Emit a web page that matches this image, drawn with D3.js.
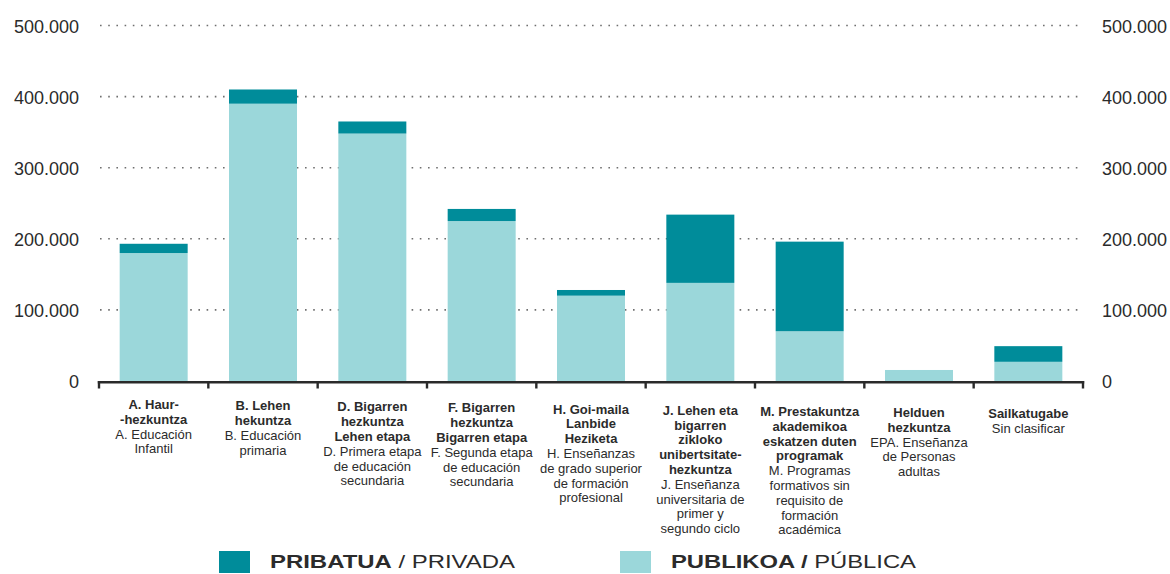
<!DOCTYPE html>
<html>
<head>
<meta charset="utf-8">
<script src="https://cdn.jsdelivr.net/npm/d3@7"></script>
<style>
  body { margin: 0; background: #fff; }
  svg { display: block; font-family: "Liberation Sans", Arial, Helvetica, sans-serif; }
</style>
</head>
<body>
<svg id="chart" width="1170" height="574"></svg>
<script>
// data
const categories = ['A', 'B', 'D', 'F', 'H', 'J', 'M', 'EPA', 'SIN'];
const boldLines = [
    ['A. Haur-', '-hezkuntza'],
    ['B. Lehen', 'hekuntza'],
    ['D. Bigarren', 'hezkuntza', 'Lehen etapa'],
    ['F. Bigarren', 'hezkuntza', 'Bigarren etapa'],
    ['H. Goi-maila', 'Lanbide', 'Heziketa'],
    ['J. Lehen eta', 'bigarren', 'zikloko', 'unibertsitate-', 'hezkuntza'],
    ['M. Prestakuntza', 'akademikoa', 'eskatzen duten', 'programak'],
    ['Helduen', 'hezkuntza'],
    ['Sailkatugabe']
];
const plainLines = [
    ['A. Educación', 'Infantil'],
    ['B. Educación', 'primaria'],
    ['D. Primera etapa', 'de educación', 'secundaria'],
    ['F. Segunda etapa', 'de educación', 'secundaria'],
    ['H. Enseñanzas', 'de grado superior', 'de formación', 'profesional'],
    ['J. Enseñanza', 'universitaria de', 'primer y', 'segundo ciclo'],
    ['M. Programas', 'formativos sin', 'requisito de', 'formación', 'académica'],
    ['EPA. Enseñanza', 'de Personas', 'adultas'],
    ['Sin clasificar']
];
const publica = [180000, 390000, 348000, 225000, 120000, 138000, 70000, 15500, 27000];
const privada = [13000, 20000, 17000, 17000, 8000, 96000, 126000, 0, 22000];
const yTicks = [0, 100000, 200000, 300000, 400000, 500000];

const colPriv = '#008c9a';
const colPub = '#9bd7da';
const textCol = '#2b2b2b';

const svg = d3.select('#chart');
const fmt = d3.formatLocale({decimal: ',', thousands: '.', grouping: [3], currency: ['', '']}).format(',');

const x = d3.scaleBand().domain(categories).range([99, 1083]);
const xBar = d3.scaleBand().domain(categories).range([99, 1083]).paddingInner(0.378).paddingOuter(0.189);
const y = d3.scaleLinear().domain([0, 500000]).range([381, 25.5]);

// dotted grid
svg.append('g').selectAll('line')
    .data(yTicks.filter(v => v > 0))
    .join('line')
    .attr('x1', 100).attr('x2', 1082)
    .attr('y1', d => y(d)).attr('y2', d => y(d))
    .attr('stroke', '#6f6f6f')
    .attr('stroke-width', 1.6)
    .attr('stroke-dasharray', '1.6 6.6');

// y labels both sides
let left = svg.append('g').attr('transform', 'translate(79,1.2)')
    .call(d3.axisLeft(y).tickValues(yTicks).tickSize(0).tickPadding(0).tickFormat(fmt));
let right = svg.append('g').attr('transform', 'translate(1102,1.2)')
    .call(d3.axisRight(y).tickValues(yTicks).tickSize(0).tickPadding(0).tickFormat(fmt));
for (let g of [left, right]) {
    g.select('.domain').remove();
    g.selectAll('text').attr('font-size', 18).attr('fill', textCol).attr('font-family', null);
}

// stacked bars
const rows = categories.map((c, i) => ({cat: c, publica: publica[i], privada: privada[i]}));
const series = d3.stack().keys(['publica', 'privada'])(rows);
const colors = {publica: colPub, privada: colPriv};

svg.append('g').selectAll('g')
    .data(series)
    .join('g')
    .attr('fill', s => colors[s.key])
    .selectAll('rect')
    .data(s => s)
    .join('rect')
    .attr('x', d => xBar(d.data.cat))
    .attr('width', xBar.bandwidth())
    .attr('y', d => y(d[1]))
    .attr('height', d => y(d[0]) - y(d[1]));

// x axis line and boundary ticks
const bounds = categories.map(c => x(c)).concat([x.range()[1]]);
let axis = svg.append('g').attr('stroke', '#2a2a2a');
axis.append('line')
    .attr('x1', bounds[0] - 1.2).attr('x2', bounds[bounds.length - 1] + 1.2)
    .attr('y1', 382.2).attr('y2', 382.2)
    .attr('stroke-width', 2.6);
axis.selectAll('.tk')
    .data(bounds)
    .join('line')
    .attr('class', 'tk')
    .attr('x1', d => d).attr('x2', d => d)
    .attr('y1', 381).attr('y2', 388.5)
    .attr('stroke-width', 2.4);

// category labels
const lineH = 14.8;
categories.forEach((c, i) => {
    let t = svg.append('text')
        .attr('text-anchor', 'middle')
        .attr('font-size', 13)
        .attr('fill', textCol);
    let cx = x(c) + x.bandwidth() / 2;
    let y0 = 409 + i * 1.15;
    let n = 0;
    boldLines[i].forEach(s => {
        t.append('tspan').attr('x', cx).attr('y', y0 + lineH * n++)
            .attr('font-weight', 'bold').text(s);
    });
    plainLines[i].forEach(s => {
        t.append('tspan').attr('x', cx).attr('y', y0 + lineH * n++).text(s);
    });
});

// legend
const legend = [
    {color: colPriv, bold: 'PRIBATUA', plain: ' / PRIVADA', x: 219},
    {color: colPub, bold: 'PUBLIKOA /', plain: ' PÚBLICA', x: 620}
];
legend.forEach(l => {
    svg.append('rect').attr('x', l.x).attr('y', 551).attr('width', 31).attr('height', 22).attr('fill', l.color);
    let t = svg.append('text')
        .attr('x', l.x + 51).attr('y', 567.5)
        .attr('font-size', 19)
        .attr('fill', textCol)
        .attr('textLength', 245)
        .attr('lengthAdjust', 'spacingAndGlyphs');
    t.append('tspan').attr('font-weight', 'bold').text(l.bold);
    t.append('tspan').text(l.plain);
});
</script>
</body>
</html>
